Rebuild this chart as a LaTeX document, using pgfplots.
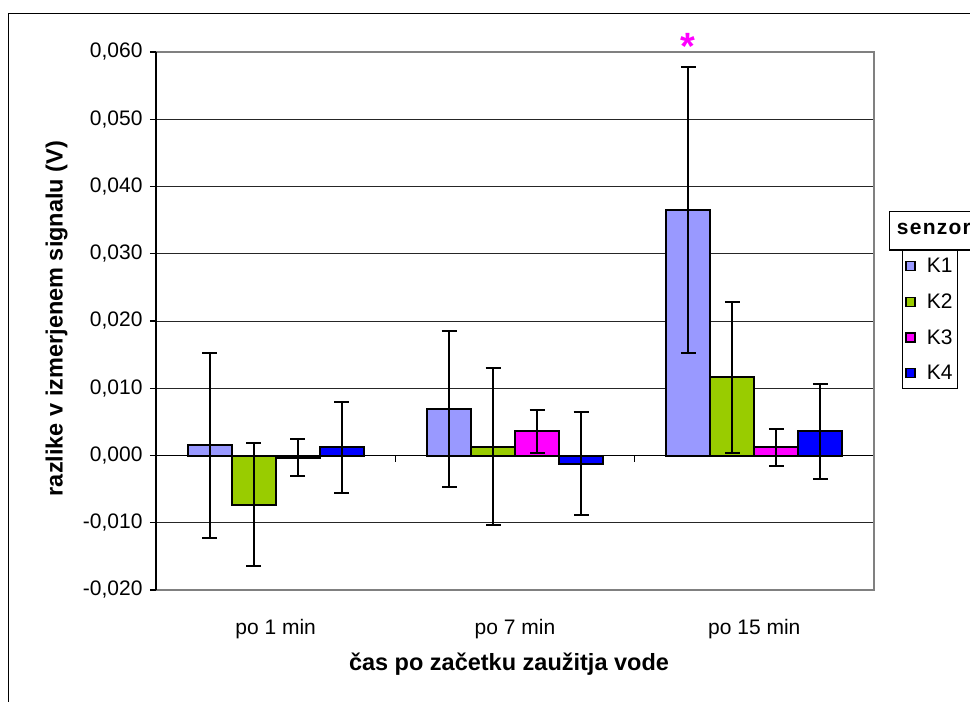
\documentclass[border=0pt]{standalone}
\usepackage{fontspec}
\setmainfont{Liberation Sans}
\usepackage{pgfplots}
\pgfplotsset{compat=1.18}
\usepackage{pgfplotstable}
\definecolor{cK1}{RGB}{153,153,255}
\definecolor{cK2}{RGB}{153,204,0}
\definecolor{cK3}{RGB}{255,0,255}
\definecolor{cK4}{RGB}{0,0,255}
\definecolor{bordergray}{RGB}{128,128,128}

\pgfplotstableread{
x K1 K1e K2 K2e K3 K3e K4 K4e
0 0.0015 0.0137 -0.0073 0.0091 -0.0003 0.0027 0.0012 0.0068
1 0.0069 0.0116 0.0013 0.0117 0.0036 0.0032 -0.0012 0.0077
2 0.0365 0.0212 0.0116 0.0112 0.0012 0.0028 0.0036 0.0071
}\datatable

\begin{document}
\begin{tikzpicture}
\useasboundingbox (0,0) rectangle (970pt,702pt);
\clip (0,0) rectangle (970pt,702pt);
\fill[white] (0,0) rectangle (970pt,702pt);
\draw[black, line width=1pt] (8.3pt,688pt) rectangle (1000pt,-20pt);
\begin{axis}[
  at={(156pt,112pt)}, anchor=south west,
  width=718pt, height=538pt, scale only axis,
  xmin=-0.5, xmax=2.5, ymin=-0.02, ymax=0.06,
  clip=false,
  axis line style={draw=none},
  scaled y ticks=false,
  ytick={-0.02,-0.01,0,0.01,0.02,0.03,0.04,0.05,0.06},
  ytick pos=left,
  tick align=outside,
  major tick length=6pt,
  y tick style={black, line width=1.2pt},
  yticklabel style={font=\fontsize{21}{25}\selectfont, xshift=-4pt,
    /pgf/number format/fixed, /pgf/number format/fixed zerofill,
    /pgf/number format/precision=3, /pgf/number format/use comma,
    /pgf/number format/assume math mode=true},
  ymajorgrids,
  grid style={black!85, line width=1pt},
  xtick={0,1,2},
  xticklabels={po 1 min,po 7 min,po 15 min},
  x tick style={draw=none},
  xticklabel style={font=\fontsize{21}{25}\selectfont, anchor=base, yshift=-38.3pt},
  ylabel={razlike v izmerjenem signalu (V)},
  ylabel style={at={(-0.1383,0.5046)}, anchor=center, font=\bfseries\fontsize{23.5}{28}\selectfont},
  ybar=0pt, bar width=44pt,
  legend style={at={(1.0388,0.632)}, anchor=north west, draw=black, line width=1.2pt,
    font=\fontsize{21}{25}\selectfont, row sep=15.6pt, column sep=9pt,
    inner ysep=5.5pt, inner xsep=3pt},
  legend cell align=left,
  legend image code/.code={\draw[#1, line width=1.3pt] (0pt,-4.5pt) rectangle (9pt,4.5pt);},
  error bars/y dir=both, error bars/y explicit,
  error bars/error bar style={line width=2pt, black},
  error bars/error mark options={line width=2pt, mark size=7.5pt, black, rotate=90},
]
\addplot[fill=cK1, draw=black, line width=2pt] table[x=x, y=K1, y error=K1e]{\datatable};
\addplot[fill=cK2, draw=black, line width=2pt] table[x=x, y=K2, y error=K2e]{\datatable};
\addplot[fill=cK3, draw=black, line width=2pt] table[x=x, y=K3, y error=K3e]{\datatable};
\addplot[fill=cK4, draw=black, line width=2pt] table[x=x, y=K4, y error=K4e]{\datatable};
\legend{K1,K2,K3,K4}
\draw[black, line width=1.6pt] (axis cs:-0.5,0) -- (axis cs:2.5,0);
\pgfplotsinvokeforeach{0.5,1.5,2.5}{\draw[black, line width=1.2pt] (axis cs:#1,0) -- ++(0pt,-6pt);}
\draw[bordergray, line width=2pt] (axis cs:-0.5,0.06) -- (axis cs:2.5,0.06) -- (axis cs:2.5,-0.02) -- (axis cs:-0.5,-0.02);
\draw[black, line width=1.5pt] (axis cs:-0.5,0.06) -- (axis cs:-0.5,-0.02);
\node[text=cK3, font=\bfseries\fontsize{38}{40}\selectfont, anchor=north, inner sep=0pt] at (axis cs:1.724,0.0628) {*};
\end{axis}
\node[anchor=base, inner sep=0pt, font=\bfseries\fontsize{23.5}{28}\selectfont] at (509pt,31.3pt) {čas po začetku zaužitja vode};
\draw[black, fill=white, line width=1.2pt] (889.3pt,490.3pt) rectangle (1000pt,452pt);
\node[anchor=base west, inner sep=0pt, font=\bfseries\fontsize{21}{25}\selectfont\addfontfeature{LetterSpace=6}] at (896.7pt,467pt) {senzor};
\end{tikzpicture}
\end{document}
